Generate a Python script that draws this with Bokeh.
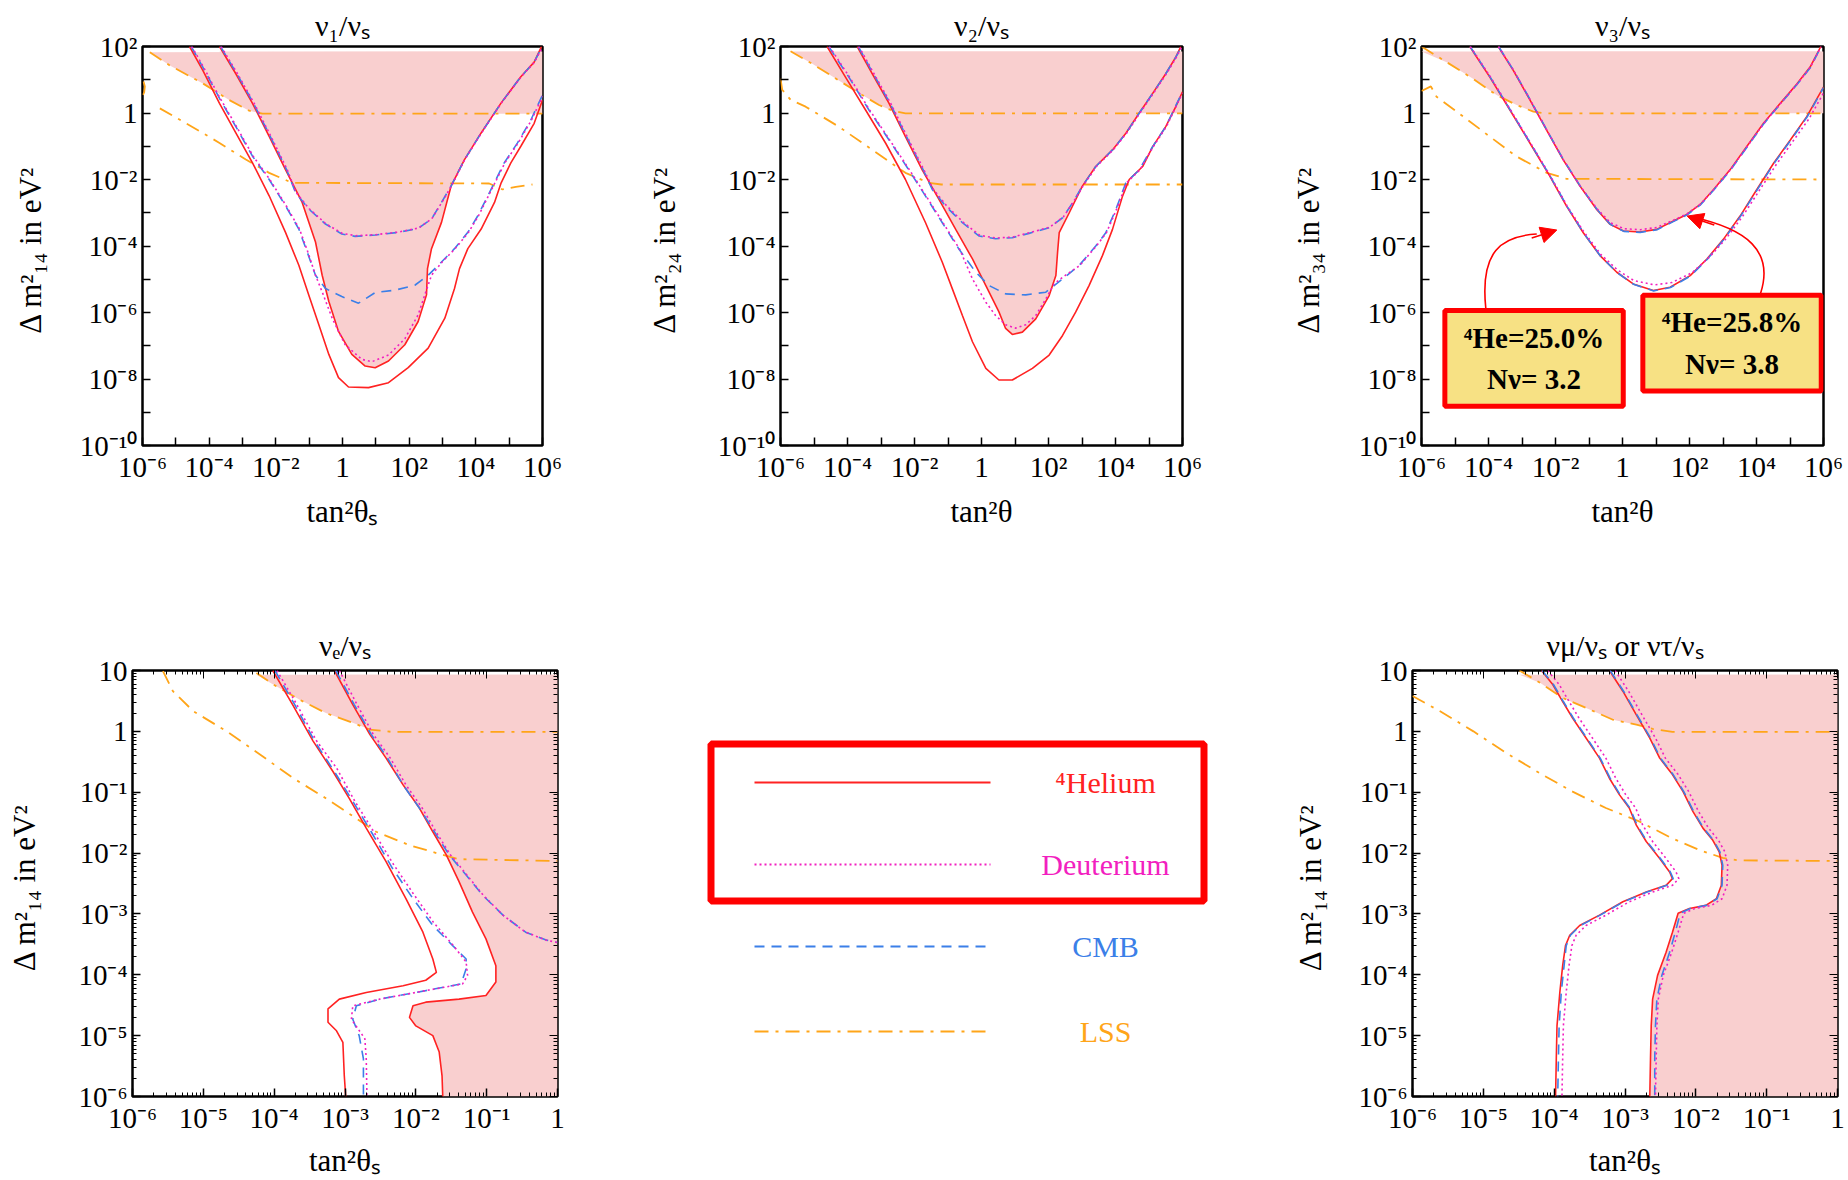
import numpy as np
from bokeh.plotting import figure
from bokeh.models import (Range1d, FixedTicker, CustomJSTickFormatter, LogAxis,
                          Label, Arrow, NormalHead)
from bokeh.layouts import row, column
from bokeh.embed import file_html
from bokeh.resources import INLINE
from bokeh.core.properties import value

FONT = "Liberation Serif"
C_HE = "#FF2222"
C_DE = "#F21FC0"
C_CMB = "#3B7FE8"
C_LSS = "#FFA519"
C_PINK = "#F9CFCF"
C_NOTE = "#F7E184"
DASH_DE = "2 3"
DASH_CMB = "10 7"
DASH_LSS = "14 7 3 7"

# ---------------- data: log10(tan^2 theta) and log10(dm^2 / eV^2) ----------------
# Panel 1: nu1/nus
P1_HE_OUT_LX = [-4.59, -4.19, -3.69, -3.20, -2.70, -2.20, -1.71, -1.31, -1.01, -0.71, -0.41, -0.12, 0.18, 0.78, 1.38, 1.97, 2.57, 3.07, 3.36, 3.51, 3.76, 4.16, 4.56, 4.76, 5.05, 5.35, 5.75, 6.0]
P1_HE_OUT_LY = [2.0, 1.28, 0.29, -0.60, -1.50, -2.49, -3.59, -4.58, -5.48, -6.37, -7.26, -7.96, -8.24, -8.26, -8.11, -7.66, -7.07, -6.17, -5.28, -4.68, -4.08, -3.49, -2.69, -2.10, -1.50, -1.00, -0.31, 0.39]
P1_HE_IN_LX = [-3.69, -3.20, -2.70, -2.20, -1.71, -1.21, -0.81, -0.61, -0.41, -0.12, 0.28, 0.68, 0.98, 1.38, 1.87, 2.27, 2.52, 2.55, 2.67, 2.97, 3.26, 3.66, 4.16, 4.75, 5.35, 5.75, 5.97]
P1_HE_IN_LY = [2.0, 1.18, 0.29, -0.70, -1.70, -2.69, -3.88, -4.88, -5.67, -6.57, -7.26, -7.61, -7.66, -7.46, -6.97, -6.27, -5.47, -4.68, -4.08, -3.29, -2.19, -1.40, -0.60, 0.29, 1.09, 1.53, 2.0]
P1_CMB_OUT_LX = [-4.54, -4.19, -3.69, -3.20, -2.70, -2.20, -1.71, -1.31, -1.06, -0.81, -0.51, -0.02, 0.48, 0.98, 1.57, 2.17, 2.57, 2.97, 3.36, 3.76, 4.06, 4.46, 4.85, 5.25, 5.65, 6.0]
P1_CMB_OUT_LY = [2.0, 1.38, 0.44, -0.41, -1.30, -2.00, -2.79, -3.49, -4.18, -4.88, -5.28, -5.52, -5.72, -5.40, -5.33, -5.18, -4.88, -4.48, -4.08, -3.59, -3.09, -2.29, -1.50, -0.90, -0.21, 0.54]
P1_CMB_IN_LX = [-3.66, -3.17, -2.67, -2.17, -1.68, -1.41, -1.01, -0.51, -0.02, 0.38, 0.98, 1.67, 2.27, 2.67, 2.97, 3.26, 3.66, 4.16, 4.75, 5.35, 5.75, 5.99]
P1_CMB_IN_LY = [2.0, 1.18, 0.29, -0.70, -1.70, -2.39, -2.89, -3.34, -3.64, -3.71, -3.67, -3.59, -3.47, -3.19, -2.69, -2.19, -1.40, -0.60, 0.29, 1.09, 1.53, 2.0]
P1_DE_OUT_LX = [-4.52, -4.17, -3.67, -3.18, -2.68, -2.18, -1.69, -1.29, -1.04, -0.81, -0.61, -0.31, 0.08, 0.58, 0.88, 1.38, 1.87, 2.27, 2.47, 2.67, 2.99, 3.38, 3.78, 4.08, 4.48, 4.87, 5.27, 5.67, 6.0]
P1_DE_OUT_LY = [2.0, 1.38, 0.44, -0.41, -1.30, -2.00, -2.79, -3.49, -4.18, -4.88, -5.38, -6.17, -6.97, -7.41, -7.48, -7.28, -6.79, -6.07, -5.47, -4.88, -4.48, -4.08, -3.59, -3.09, -2.29, -1.50, -0.90, -0.21, 0.50]
P1_DE_IN_LX = [-3.64, -3.15, -2.65, -2.15, -1.66, -1.40, -1.00, -0.50, -0.01, 0.39, 0.99, 1.68, 2.28, 2.68, 2.98, 3.27, 3.67, 4.17, 4.76, 5.36, 5.76, 6.0]
P1_DE_IN_LY = [2.0, 1.18, 0.29, -0.70, -1.70, -2.38, -2.88, -3.33, -3.62, -3.69, -3.66, -3.58, -3.46, -3.18, -2.69, -2.19, -1.40, -0.60, 0.29, 1.09, 1.53, 1.98]
P1_LSS_UP_LX = [-5.78, -5.18, -4.19, -3.40, -2.80, -2.40, 6.0]
P1_LSS_UP_LY = [1.83, 1.43, 0.89, 0.39, 0.07, -0.02, -0.02]
P1_LSS_LO_LX = [-5.48, -4.69, -3.69, -2.90, -2.20, -1.51, 4.40, 4.80, 5.20, 5.70]
P1_LSS_LO_LY = [0.14, -0.31, -0.90, -1.40, -1.80, -2.10, -2.12, -2.30, -2.22, -2.15]
P1_LSS_CURL_LX = [-5.97, -5.93, -5.95, -6.0]
P1_LSS_CURL_LY = [0.95, 0.80, 0.62, 0.52]

# Panel 2: nu2/nus
P2_HE_OUT_LX = [-4.61, -4.06, -3.46, -2.86, -2.27, -1.67, -1.17, -0.87, -0.57, -0.27, 0.13, 0.52, 0.92, 1.52, 2.02, 2.42, 2.81, 3.21, 3.61, 3.91, 4.21, 4.41, 4.81, 5.11, 5.50, 5.80, 6.0]
P2_HE_OUT_LY = [2.0, 1.08, 0.09, -0.91, -2.00, -3.30, -4.49, -5.29, -6.09, -6.88, -7.68, -8.03, -8.03, -7.68, -7.28, -6.69, -5.99, -5.19, -4.29, -3.50, -2.50, -2.00, -1.61, -1.01, -0.41, 0.19, 0.64]
P2_HE_IN_LX = [-3.71, -3.26, -2.76, -2.27, -1.77, -1.27, -0.77, -0.27, 0.13, 0.52, 0.72, 0.92, 1.22, 1.62, 2.02, 2.22, 2.27, 2.32, 2.62, 3.01, 3.41, 3.91, 4.31, 4.71, 5.11, 5.50, 5.80, 5.95]
P2_HE_IN_LY = [2.0, 1.18, 0.29, -0.71, -1.71, -2.60, -3.50, -4.39, -5.19, -5.98, -6.48, -6.66, -6.59, -6.19, -5.49, -4.89, -4.20, -3.60, -3.00, -2.20, -1.61, -1.11, -0.61, 0.00, 0.59, 1.18, 1.68, 2.0]
P2_CMB_OUT_LX = [-4.56, -3.96, -3.36, -2.76, -2.17, -1.67, -1.17, -0.67, -0.17, 0.23, 0.72, 1.32, 1.92, 2.42, 2.91, 3.41, 3.71, 4.01, 4.31, 4.71, 5.11, 5.50, 6.0]
P2_CMB_OUT_LY = [2.0, 1.08, 0.09, -0.81, -1.71, -2.50, -3.30, -4.10, -4.79, -5.19, -5.44, -5.47, -5.39, -4.99, -4.59, -4.00, -3.60, -2.90, -2.10, -1.71, -1.01, -0.41, 0.64]
P2_CMB_IN_LX = [-3.68, -3.23, -2.73, -2.24, -1.74, -1.47, -1.07, -0.57, -0.07, 0.42, 0.92, 1.42, 2.02, 2.42, 2.72, 3.01, 3.41, 3.91, 4.31, 4.71, 5.11, 5.50, 5.80, 5.97]
P2_CMB_IN_LY = [2.0, 1.18, 0.29, -0.71, -1.71, -2.30, -2.80, -3.30, -3.70, -3.78, -3.75, -3.62, -3.45, -3.15, -2.70, -2.20, -1.61, -1.11, -0.61, 0.00, 0.59, 1.18, 1.68, 2.0]
P2_DE_OUT_LX = [-4.54, -3.94, -3.34, -2.74, -2.15, -1.65, -1.15, -0.65, -0.27, 0.13, 0.42, 0.72, 1.02, 1.32, 1.62, 1.92, 2.17, 2.42, 2.93, 3.43, 3.73, 4.03, 4.33, 4.73, 5.13, 5.52, 6.0]
P2_DE_OUT_LY = [2.0, 1.08, 0.09, -0.81, -1.71, -2.50, -3.30, -4.10, -4.99, -5.69, -6.09, -6.37, -6.47, -6.37, -6.09, -5.59, -5.14, -4.94, -4.59, -4.00, -3.60, -2.90, -2.10, -1.71, -1.01, -0.41, 0.60]
P2_DE_IN_LX = [-3.66, -3.21, -2.71, -2.22, -1.72, -1.45, -1.05, -0.55, -0.05, 0.44, 0.94, 1.44, 2.04, 2.44, 2.74, 3.03, 3.43, 3.93, 4.33, 4.73, 5.13, 5.52, 5.82, 5.98]
P2_DE_IN_LY = [2.0, 1.18, 0.29, -0.71, -1.71, -2.28, -2.78, -3.28, -3.68, -3.76, -3.73, -3.60, -3.43, -3.13, -2.68, -2.20, -1.61, -1.11, -0.61, 0.00, 0.59, 1.18, 1.68, 2.0]
P2_LSS_UP_LX = [-5.70, -5.05, -4.26, -3.56, -3.06, -2.66, -2.27, 6.0]
P2_LSS_UP_LY = [1.86, 1.48, 0.98, 0.54, 0.24, 0.07, -0.01, -0.01]
P2_LSS_LO_LX = [-6.0, -5.95, -5.70, -5.25, -4.26, -3.26, -2.27, -1.57, -1.20, 6.0]
P2_LSS_LO_LY = [1.03, 0.70, 0.40, 0.19, -0.41, -1.11, -1.80, -2.10, -2.15, -2.15]

# Panel 3: nu3/nus
P3_HE_OUT_LX = [-4.56, -3.96, -3.36, -2.76, -2.17, -1.67, -1.17, -0.67, -0.17, 0.32, 0.92, 1.42, 2.02, 2.52, 3.01, 3.51, 4.01, 4.51, 5.01, 5.50, 6.0]
P3_HE_OUT_LY = [2.0, 1.08, 0.09, -0.91, -1.90, -2.80, -3.60, -4.29, -4.79, -5.14, -5.34, -5.24, -4.89, -4.39, -3.80, -3.10, -2.30, -1.51, -0.81, -0.11, 0.78]
P3_HE_IN_LX = [-3.71, -3.26, -2.76, -2.27, -1.77, -1.27, -0.77, -0.37, 0.03, 0.52, 1.02, 1.52, 1.92, 2.32, 2.72, 3.21, 3.71, 4.21, 4.71, 5.21, 5.60, 5.92]
P3_HE_IN_LY = [2.0, 1.28, 0.39, -0.51, -1.41, -2.20, -2.90, -3.35, -3.55, -3.58, -3.50, -3.25, -3.05, -2.75, -2.30, -1.71, -1.01, -0.31, 0.29, 0.88, 1.38, 2.0]
P3_CMB_OUT_LX = [-4.55, -3.95, -3.35, -2.75, -2.16, -1.66, -1.16, -0.66, -0.16, 0.33, 0.93, 1.43, 2.03, 2.53, 3.02, 3.52, 4.02, 4.52, 5.02, 5.51, 6.0]
P3_CMB_OUT_LY = [2.0, 1.08, 0.09, -0.91, -1.90, -2.80, -3.61, -4.30, -4.80, -5.15, -5.35, -5.25, -4.90, -4.40, -3.81, -3.11, -2.31, -1.52, -0.82, -0.12, 0.76]
P3_CMB_IN_LX = [-3.70, -3.25, -2.75, -2.26, -1.76, -1.26, -0.76, -0.36, 0.04, 0.53, 1.03, 1.53, 1.93, 2.33, 2.73, 3.22, 3.72, 4.22, 4.72, 5.22, 5.61, 5.93]
P3_CMB_IN_LY = [2.0, 1.28, 0.39, -0.51, -1.41, -2.20, -2.90, -3.35, -3.56, -3.59, -3.51, -3.26, -3.06, -2.76, -2.31, -1.72, -1.02, -0.32, 0.28, 0.87, 1.37, 2.0]
P3_DE_OUT_LX = [-4.54, -3.94, -3.34, -2.74, -2.15, -1.65, -1.15, -0.65, -0.15, 0.34, 0.95, 1.47, 2.08, 2.59, 3.09, 3.59, 4.09, 4.59, 5.08, 5.57, 6.0]
P3_DE_OUT_LY = [2.0, 1.08, 0.09, -0.91, -1.90, -2.80, -3.58, -4.25, -4.72, -5.04, -5.17, -5.10, -4.80, -4.34, -3.78, -3.10, -2.32, -1.55, -0.86, -0.17, 0.60]
P3_DE_IN_LX = [-3.70, -3.25, -2.75, -2.26, -1.76, -1.26, -0.76, -0.36, 0.04, 0.53, 1.03, 1.53, 1.93, 2.33, 2.73, 3.22, 3.72, 4.22, 4.72, 5.22, 5.61, 5.93]
P3_DE_IN_LY = [2.0, 1.28, 0.39, -0.51, -1.41, -2.20, -2.88, -3.30, -3.48, -3.51, -3.44, -3.22, -3.03, -2.74, -2.30, -1.71, -1.01, -0.31, 0.29, 0.88, 1.38, 2.0]
P3_LSS_UP_LX = [-6.0, -5.25, -4.46, -3.76, -3.16, -2.66, -2.30, 6.0]
P3_LSS_UP_LY = [2.0, 1.53, 1.03, 0.54, 0.24, 0.04, -0.01, -0.01]
P3_LSS_LO_LX = [-6.0, -5.72, -5.55, -4.75, -3.96, -3.16, -2.26, -1.67, 6.0]
P3_LSS_LO_LY = [0.66, 0.80, 0.49, -0.11, -0.71, -1.31, -1.80, -1.98, -2.0]

# Panel 4: nue/nus
P4_HE_OUT_LX = [-4.02, -3.74, -3.45, -3.17, -2.94, -2.70, -2.42, -2.14, -1.90, -1.76, -1.71, -1.86, -2.18, -2.70, -3.08, -3.24, -3.24, -3.12, -3.03, -3.01, -2.99]
P4_HE_OUT_LY = [1.0, 0.44, -0.16, -0.66, -1.10, -1.59, -2.14, -2.75, -3.30, -3.74, -3.96, -4.09, -4.18, -4.29, -4.40, -4.56, -4.78, -4.92, -5.11, -5.66, -6.0]
P4_HE_IN_LX = [-3.15, -2.89, -2.65, -2.42, -2.18, -1.95, -1.76, -1.57, -1.39, -1.20, -1.01, -0.87, -0.87, -1.01, -1.39, -1.86, -2.04, -2.09, -2.00, -1.76, -1.67, -1.63, -1.62]
P4_HE_IN_LY = [1.0, 0.44, -0.05, -0.44, -0.88, -1.26, -1.65, -2.03, -2.47, -2.97, -3.41, -3.85, -4.12, -4.34, -4.40, -4.45, -4.51, -4.70, -4.84, -5.00, -5.27, -5.66, -6.0]
P4_CMB_OUT_LX = [-3.99, -3.71, -3.43, -3.15, -2.89, -2.63, -2.33, -2.04, -1.76, -1.48, -1.29, -1.29, -1.36, -1.86, -2.51, -2.84, -2.89, -2.80, -2.74, -2.74]
P4_CMB_OUT_LY = [1.0, 0.44, -0.16, -0.66, -1.15, -1.65, -2.25, -2.75, -3.19, -3.52, -3.74, -3.90, -4.15, -4.26, -4.40, -4.51, -4.73, -5.00, -5.38, -6.0]
P4_CMB_IN_LX = [-3.13, -2.87, -2.63, -2.40, -2.18, -1.95, -1.71, -1.53, -1.29, -1.06, -0.77, -0.45, -0.16, 0.0]
P4_CMB_IN_LY = [1.0, 0.44, -0.05, -0.44, -0.88, -1.26, -1.70, -2.03, -2.36, -2.69, -3.02, -3.30, -3.43, -3.47]
P4_DE_OUT_LX = [-3.96, -3.68, -3.40, -3.12, -2.86, -2.61, -2.33, -2.04, -1.75, -1.47, -1.29, -1.27, -1.34, -1.86, -2.51, -2.89, -2.91, -2.72, -2.70, -2.69]
P4_DE_OUT_LY = [1.0, 0.44, -0.16, -0.60, -1.15, -1.62, -2.16, -2.66, -3.14, -3.52, -3.79, -4.01, -4.15, -4.26, -4.40, -4.51, -4.73, -5.05, -5.38, -6.0]
P4_DE_IN_LX = [-3.08, -2.83, -2.60, -2.36, -2.14, -1.91, -1.69, -1.51, -1.28, -1.05, -0.77, -0.45, -0.16, 0.0]
P4_DE_IN_LY = [1.0, 0.44, -0.05, -0.44, -0.88, -1.26, -1.70, -2.03, -2.36, -2.69, -3.02, -3.30, -3.43, -3.47]
P4_LSS_UP_LX = [-4.25, -3.97, -3.64, -3.27, -2.89, -2.65, -2.33, 0.0]
P4_LSS_UP_LY = [0.96, 0.74, 0.52, 0.30, 0.14, 0.03, -0.01, -0.01]
P4_LSS_LO_LX = [-5.57, -5.43, -5.14, -4.67, -4.20, -3.73, -3.27, -2.84, -2.56, -2.09, -1.62, -1.39, 0.0]
P4_LSS_LO_LY = [0.99, 0.66, 0.33, 0.00, -0.38, -0.77, -1.10, -1.43, -1.65, -1.87, -2.03, -2.10, -2.13]

# Panel 5: numu/nus or nutau/nus
P5_HE_L_LX = [-4.18, -4.02, -3.88, -3.74, -3.55, -3.36, -3.22, -3.08, -2.94, -2.84, -2.70, -2.51, -2.37, -2.33, -2.42, -2.70, -3.03, -3.36, -3.64, -3.78, -3.84, -3.88, -3.92, -3.96, -3.97, -3.98]
P5_HE_L_LY = [1.0, 0.77, 0.49, 0.22, -0.11, -0.44, -0.77, -1.04, -1.26, -1.54, -1.81, -2.09, -2.31, -2.42, -2.53, -2.64, -2.80, -3.02, -3.19, -3.35, -3.52, -3.85, -4.29, -4.84, -5.38, -6.0]
P5_CMB_L_LX = [-4.17, -4.01, -3.87, -3.73, -3.54, -3.35, -3.21, -3.07, -2.93, -2.83, -2.69, -2.50, -2.36, -2.32, -2.41, -2.69, -3.02, -3.35, -3.63, -3.77, -3.83, -3.86, -3.90, -3.93, -3.94, -3.95]
P5_CMB_L_LY = [1.0, 0.77, 0.49, 0.22, -0.11, -0.44, -0.77, -1.04, -1.26, -1.54, -1.81, -2.09, -2.31, -2.42, -2.53, -2.64, -2.80, -3.02, -3.19, -3.35, -3.52, -3.85, -4.29, -4.84, -5.38, -6.0]
P5_DE_L_LX = [-4.09, -3.93, -3.79, -3.65, -3.46, -3.27, -3.13, -2.99, -2.85, -2.75, -2.61, -2.42, -2.28, -2.24, -2.33, -2.61, -2.94, -3.27, -3.55, -3.69, -3.75, -3.79, -3.83, -3.87, -3.88, -3.89]
P5_DE_L_LY = [1.0, 0.77, 0.49, 0.22, -0.11, -0.44, -0.77, -1.04, -1.26, -1.54, -1.81, -2.09, -2.31, -2.42, -2.53, -2.64, -2.80, -3.02, -3.19, -3.35, -3.52, -3.85, -4.29, -4.84, -5.38, -6.0]
P5_HE_R_LX = [-3.22, -3.03, -2.84, -2.65, -2.51, -2.33, -2.18, -2.04, -1.90, -1.76, -1.67, -1.63, -1.64, -1.71, -1.86, -2.09, -2.25, -2.33, -2.42, -2.54, -2.61, -2.63, -2.64, -2.65]
P5_HE_R_LY = [1.0, 0.66, 0.27, -0.11, -0.44, -0.71, -0.99, -1.32, -1.59, -1.79, -1.98, -2.20, -2.53, -2.75, -2.86, -2.91, -2.99, -3.30, -3.63, -4.01, -4.40, -4.84, -5.38, -6.0]
P5_CMB_R_LX = [-3.21, -3.02, -2.83, -2.64, -2.50, -2.32, -2.17, -2.03, -1.89, -1.75, -1.66, -1.62, -1.63, -1.70, -1.85, -2.08, -2.22, -2.29, -2.37, -2.48, -2.55, -2.57, -2.58, -2.58]
P5_CMB_R_LY = [1.0, 0.66, 0.27, -0.11, -0.44, -0.71, -0.99, -1.32, -1.59, -1.79, -1.98, -2.20, -2.53, -2.75, -2.86, -2.91, -2.99, -3.30, -3.63, -4.01, -4.40, -4.84, -5.38, -6.0]
P5_DE_R_LX = [-3.14, -2.95, -2.76, -2.57, -2.43, -2.25, -2.10, -1.96, -1.82, -1.68, -1.59, -1.55, -1.56, -1.63, -1.78, -2.01, -2.17, -2.25, -2.34, -2.46, -2.53, -2.55, -2.56, -2.57]
P5_DE_R_LY = [1.0, 0.66, 0.27, -0.11, -0.44, -0.71, -0.99, -1.32, -1.59, -1.79, -1.98, -2.20, -2.53, -2.75, -2.86, -2.91, -2.99, -3.30, -3.63, -4.01, -4.40, -4.84, -5.38, -6.0]
P5_LSS_UP_LX = [-4.49, -4.20, -3.88, -3.50, -3.17, -2.84, -2.61, -2.33, 0.0]
P5_LSS_UP_LY = [1.0, 0.80, 0.55, 0.36, 0.19, 0.11, 0.04, -0.01, -0.01]
P5_LSS_LO_LX = [-6.0, -5.61, -5.14, -4.67, -4.20, -3.74, -3.27, -2.80, -2.33, -1.95, -1.62, -1.39, 0.0]
P5_LSS_LO_LY = [0.58, 0.33, 0.00, -0.36, -0.69, -0.99, -1.26, -1.48, -1.76, -1.95, -2.08, -2.12, -2.13]

NOTE_TEXTS = ["\u2074He=25.0%\nN\u03bd= 3.2", "\u2074He=25.8%\nN\u03bd= 3.8"]
LEG_NAMES = ["\u2074Helium", "Deuterium", "CMB", "LSS"]
LEG_COLORS = [C_HE, C_DE, C_CMB, C_LSS]
LEG_DASHES = ["solid", DASH_DE, DASH_CMB, DASH_LSS]


def pw(a):
    return [10.0 ** t for t in a]


SUP_CODE = """
const sup = {"-":"\u207b","0":"\u2070","1":"\u00b9","2":"\u00b2","3":"\u00b3","4":"\u2074","5":"\u2075","6":"\u2076","7":"\u2077","8":"\u2078","9":"\u2079"};
const e = Math.round(Math.log10(tick));
if (every2 && Math.abs(e) % 2 == 1) { return ""; }
if (e == 0) { return "1"; }
if (e == 1) { return "10"; }
return "10" + String(e).split("").map(c => sup[c]).join("");
"""


def style_axis(ax, ticker, formatter, label, standoff):
    ax.ticker = ticker
    ax.formatter = formatter
    ax.axis_label = label
    ax.axis_label_standoff = standoff
    ax.axis_line_color = None
    ax.major_tick_in = 8
    ax.major_tick_out = 0
    ax.minor_tick_in = 4
    ax.minor_tick_out = 0
    ax.major_tick_line_color = "black"
    ax.major_tick_line_width = 1.5
    ax.minor_tick_line_color = "black"
    ax.minor_tick_line_width = 1
    ax.major_label_text_font = FONT
    ax.major_label_text_font_size = "29px"
    ax.major_label_text_color = "black"
    ax.major_label_standoff = 5
    ax.axis_label_text_font = FONT
    ax.axis_label_text_font_size = "31px"
    ax.axis_label_text_font_style = "normal"
    ax.axis_label_text_color = "black"


def make_panel(title, xlabel, ylabel, xdec, ydec, width, height, bl, br, bt, bb, every2, minor,
               ystand, xstand, tstand):
    x0, x1 = xdec
    y0, y1 = ydec
    p = figure(width=width, height=height, x_axis_type="log", y_axis_type="log",
               x_range=Range1d(10.0 ** x0, 10.0 ** x1), y_range=Range1d(10.0 ** y0, 10.0 ** y1),
               toolbar_location=None, output_backend="svg", title=title,
               min_border_left=bl, min_border_right=br, min_border_top=bt, min_border_bottom=bb)
    p.grid.visible = False
    p.outline_line_color = "black"
    p.outline_line_width = 2.5
    p.outline_line_alpha = 1
    p.background_fill_color = "white"
    p.border_fill_color = "white"
    p.title.align = "center"
    p.title.text_font = FONT
    p.title.text_font_size = "30px"
    p.title.text_font_style = "normal"
    p.title.text_color = "black"
    p.title.standoff = tstand

    def mk_ticker(a, b):
        minors = []
        if minor:
            minors = [m * 10.0 ** k for k in range(a, b) for m in range(2, 10)]
        return FixedTicker(ticks=[10.0 ** k for k in range(a, b + 1)], minor_ticks=minors)

    xt = mk_ticker(x0, x1)
    yt = mk_ticker(y0, y1)
    fmt = CustomJSTickFormatter(args=dict(every2=every2), code=SUP_CODE)
    style_axis(p.xaxis[0], xt, fmt, xlabel, xstand)
    style_axis(p.yaxis[0], yt, fmt, ylabel, ystand)
    if minor:
        blank = CustomJSTickFormatter(code='return "";')
        for loc, tk in (("above", xt), ("right", yt)):
            ax = LogAxis(ticker=tk, formatter=blank)
            ax.axis_line_color = None
            ax.major_tick_in = 8
            ax.major_tick_out = 0
            ax.minor_tick_in = 4
            ax.minor_tick_out = 0
            ax.major_label_text_font_size = "1px"
            ax.major_label_standoff = 0
            p.add_layout(ax, loc)
    return p


def draw_panel(p, top, right, pink_in, lss_up, lss_lo, curves, bottom=None, extra_lss=()):
    ix, iy = pink_in
    ux, uy = lss_up
    iyc = [min(t, top) for t in iy]
    uyc = [min(t, top) for t in uy]
    if bottom is None:
        pa_x, pa_y = list(ix), iyc
    else:
        pa_x, pa_y = list(ix) + [right, right], iyc + [bottom, top]
    pb_x, pb_y = list(ux) + [right], uyc + [top]
    p.patches(xs=[pw(pa_x), pw(pb_x)], ys=[pw(pa_y), pw(pb_y)],
              fill_color=C_PINK, line_color=None)
    for lx, ly in (lss_up, lss_lo) + tuple(extra_lss):
        p.line(pw(lx), pw(ly), line_color=C_LSS, line_width=1.8, line_dash=DASH_LSS)
    for kind, lx, ly in curves:
        if kind == "he":
            p.line(pw(lx), pw(ly), line_color=C_HE, line_width=1.6)
        elif kind == "cmb":
            p.line(pw(lx), pw(ly), line_color=C_CMB, line_width=1.6, line_dash=DASH_CMB)
        else:
            p.line(pw(lx), pw(ly), line_color=C_DE, line_width=1.6, line_dash=DASH_DE)


TOP_H, BOT_H = 536, 644
TB_T, TB_B = 46, 91          # top row borders  (frame 46..445)
BB_T, BB_B = 134, 84         # bottom row borders (frame 670..1096)

f1 = make_panel("\u03bd\u2081/\u03bd\u209b", "tan\u00b2\u03b8\u209b", "\u0394 m\u00b2\u2081\u2084  in eV\u00b2",
                (-6, 6), (-10, 2), 620, TOP_H, 142, 78, TB_T, TB_B, True, False, 29, 8, 10)
draw_panel(f1, 1.85, 6.0, (P1_HE_IN_LX, P1_HE_IN_LY), (P1_LSS_UP_LX, P1_LSS_UP_LY), (P1_LSS_LO_LX, P1_LSS_LO_LY),
           [("he", P1_HE_OUT_LX, P1_HE_OUT_LY), ("he", P1_HE_IN_LX, P1_HE_IN_LY),
            ("cmb", P1_CMB_OUT_LX, P1_CMB_OUT_LY), ("cmb", P1_CMB_IN_LX, P1_CMB_IN_LY),
            ("de", P1_DE_OUT_LX, P1_DE_OUT_LY), ("de", P1_DE_IN_LX, P1_DE_IN_LY)],
           extra_lss=[(P1_LSS_CURL_LX, P1_LSS_CURL_LY)])

f2 = make_panel("\u03bd\u2082/\u03bd\u209b", "tan\u00b2\u03b8", "\u0394 m\u00b2\u2082\u2084  in eV\u00b2",
                (-6, 6), (-10, 2), 630, TOP_H, 160, 68, TB_T, TB_B, True, False, 33, 8, 10)
draw_panel(f2, 1.85, 6.0, (P2_HE_IN_LX, P2_HE_IN_LY), (P2_LSS_UP_LX, P2_LSS_UP_LY), (P2_LSS_LO_LX, P2_LSS_LO_LY),
           [("he", P2_HE_OUT_LX, P2_HE_OUT_LY), ("he", P2_HE_IN_LX, P2_HE_IN_LY),
            ("cmb", P2_CMB_OUT_LX, P2_CMB_OUT_LY), ("cmb", P2_CMB_IN_LX, P2_CMB_IN_LY),
            ("de", P2_DE_OUT_LX, P2_DE_OUT_LY), ("de", P2_DE_IN_LX, P2_DE_IN_LY)])

f3 = make_panel("\u03bd\u2083/\u03bd\u209b", "tan\u00b2\u03b8", "\u0394 m\u00b2\u2083\u2084  in eV\u00b2",
                (-6, 6), (-10, 2), 596, TOP_H, 171, 23, TB_T, TB_B, True, False, 30, 8, 10)
draw_panel(f3, 1.85, 6.0, (P3_HE_IN_LX, P3_HE_IN_LY), (P3_LSS_UP_LX, P3_LSS_UP_LY), (P3_LSS_LO_LX, P3_LSS_LO_LY),
           [("he", P3_HE_OUT_LX, P3_HE_OUT_LY), ("he", P3_HE_IN_LX, P3_HE_IN_LY),
            ("cmb", P3_CMB_OUT_LX, P3_CMB_OUT_LY), ("cmb", P3_CMB_IN_LX, P3_CMB_IN_LY),
            ("de", P3_DE_OUT_LX, P3_DE_OUT_LY), ("de", P3_DE_IN_LX, P3_DE_IN_LY)])

# curved arrows and annotation boxes (panel 3)
f3.bezier(x0=[10 ** -4.08, 10 ** 4.12], y0=[10 ** -5.88, 10 ** -5.43],
          x1=[10 ** -2.56, 10 ** 2.08], y1=[10 ** -3.64, 10 ** -3.13],
          cx0=[10 ** -4.26, 10 ** 4.53], cy0=[10 ** -4.15, 10 ** -4.15],
          cx1=[10 ** -3.61, 10 ** 3.72], cy1=[10 ** -3.70, 10 ** -3.49],
          line_color="#FF0000", line_width=1.6)
for (xs, ys, xe, ye) in ((-2.71, -3.76, -1.96, -3.52), (2.74, -3.37, 1.93, -3.10)):
    f3.add_layout(Arrow(end=NormalHead(size=16, fill_color="#FF0000", line_color="#FF0000"),
                        x_start=10 ** xs, y_start=10 ** ys, x_end=10 ** xe, y_end=10 ** ye,
                        line_color="#FF0000", line_width=1.6))
for (cx, cy), txt in zip(((-2.64, -7.38), (3.27, -6.92)), NOTE_TEXTS):
    f3.add_layout(Label(x=10 ** cx, y=10 ** cy, text=txt,
                        text_align="center", text_baseline="middle",
                        text_font=FONT, text_font_size="29px", text_font_style="bold",
                        text_color="black", text_line_height=1.3, padding=(19, 11),
                        background_fill_color=C_NOTE, background_fill_alpha=1.0,
                        border_line_color="#FF0000", border_line_width=5, border_line_alpha=1.0))

f4 = make_panel("\u03bd\u2091/\u03bd\u209b", "tan\u00b2\u03b8\u209b", "\u0394 m\u00b2\u2081\u2084  in eV\u00b2",
                (-6, 0), (-6, 1), 610, BOT_H, 132, 53, BB_T, BB_B, False, True, 33, 6, 18)
draw_panel(f4, 0.93, 0.0, (P4_HE_IN_LX, P4_HE_IN_LY), (P4_LSS_UP_LX, P4_LSS_UP_LY), (P4_LSS_LO_LX, P4_LSS_LO_LY),
           [("he", P4_HE_OUT_LX, P4_HE_OUT_LY), ("he", P4_HE_IN_LX, P4_HE_IN_LY),
            ("cmb", P4_CMB_OUT_LX, P4_CMB_OUT_LY), ("cmb", P4_CMB_IN_LX, P4_CMB_IN_LY),
            ("de", P4_DE_OUT_LX, P4_DE_OUT_LY), ("de", P4_DE_IN_LX, P4_DE_IN_LY)], bottom=-6.0)

f5 = make_panel("\u03bd\u03bc/\u03bd\u209b or \u03bd\u03c4/\u03bd\u209b", "tan\u00b2\u03b8\u209b", "\u0394 m\u00b2\u2081\u2084  in eV\u00b2",
                (-6, 0), (-6, 1), 596, BOT_H, 162, 9, BB_T, BB_B, False, True, 27, 6, 18)
draw_panel(f5, 0.93, 0.0, (P5_HE_R_LX, P5_HE_R_LY), (P5_LSS_UP_LX, P5_LSS_UP_LY), (P5_LSS_LO_LX, P5_LSS_LO_LY),
           [("he", P5_HE_L_LX, P5_HE_L_LY), ("he", P5_HE_R_LX, P5_HE_R_LY),
            ("cmb", P5_CMB_L_LX, P5_CMB_L_LY), ("cmb", P5_CMB_R_LX, P5_CMB_R_LY),
            ("de", P5_DE_L_LX, P5_DE_L_LY), ("de", P5_DE_R_LX, P5_DE_R_LY)], bottom=-6.0)

# key panel (its frame is aligned with the frames of the neighbouring panels)
LEG_W, LEG_FH = 640, BOT_H - BB_T - BB_B
leg = figure(width=LEG_W, height=BOT_H, x_range=Range1d(0, LEG_W), y_range=Range1d(LEG_FH, 0),
             toolbar_location=None, output_backend="svg",
             min_border_left=0, min_border_right=0, min_border_top=BB_T, min_border_bottom=BB_B)
leg.axis.visible = False
leg.grid.visible = False
leg.outline_line_color = None
leg.border_fill_color = "white"
ROW_Y = [112, 194, 276, 361]
for name, col, dash, yy in zip(LEG_NAMES, LEG_COLORS, LEG_DASHES, ROW_Y):
    leg.line([144, 380], [yy, yy], line_color=col, line_width=2, line_dash=dash)
    leg.text(x=[495], y=[yy], text=[name], text_align="center", text_baseline="middle",
             text_font=value(FONT), text_font_size="30px", text_color=col)
leg.quad(left=[100.5], right=[593.5], top=[73.5], bottom=[230.5], fill_color=None,
         line_color="#FF0000", line_width=7)

layout = column(row(f1, f2, f3), row(f4, leg, f5))
open("out.html", "w").write(file_html(layout, INLINE))
